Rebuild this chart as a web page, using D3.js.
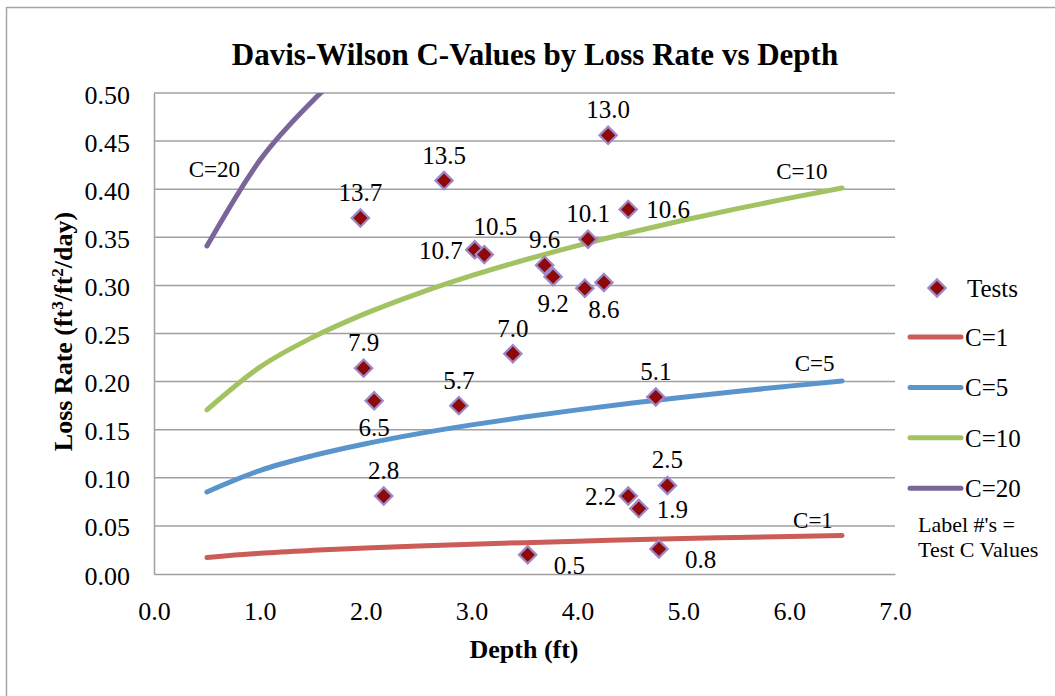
<!DOCTYPE html>
<html>
<head>
<meta charset="utf-8">
<script src="https://cdn.jsdelivr.net/npm/d3@7/dist/d3.min.js"></script>
<style>
  html, body { margin: 0; padding: 0; background: #fff; }
  svg { display: block; }
  svg text { font-family: "Liberation Serif", "Times New Roman", serif; }
</style>
</head>
<body>
<svg id="chart" width="1055" height="696"></svg>
<script>
// Davis-Wilson curves: loss rate at each depth for fixed C values
const curveDepths = [0.5, 1.0, 1.5, 2.0, 2.5, 3.0, 3.5, 4.0, 4.5, 5.0, 5.5, 6.0, 6.5];
const c1Rates  = [0.0171, 0.0215, 0.0246, 0.0271, 0.0292, 0.0310, 0.0326, 0.0341, 0.0355, 0.0368, 0.0380, 0.0391, 0.0401];
const c5Rates  = [0.0853, 0.1075, 0.1230, 0.1354, 0.1459, 0.1550, 0.1632, 0.1706, 0.1775, 0.1838, 0.1898, 0.1953, 0.2006];
const c10Rates = [0.1706, 0.2150, 0.2461, 0.2709, 0.2918, 0.3101, 0.3264, 0.3413, 0.3550, 0.3677, 0.3795, 0.3907, 0.4013];
const c20Depths = [0.5, 1.0, 1.5, 2.0];
const c20Rates  = [0.341, 0.430, 0.492, 0.542];

// Field tests: depth (ft), loss rate (ft3/ft2/day), test C value label
const testDepth = [4.29, 2.74, 1.95, 4.48, 4.10, 3.03, 3.12, 3.69, 3.77, 4.07, 4.25, 1.98, 3.39, 2.08, 2.88, 4.74, 2.17, 4.48, 4.58, 4.85, 3.53, 4.77];
const testRate  = [0.456, 0.409, 0.370, 0.379, 0.348, 0.337, 0.332, 0.321, 0.309, 0.297, 0.303, 0.214, 0.229, 0.180, 0.175, 0.184, 0.081, 0.081, 0.068, 0.092, 0.020, 0.026];
const testLabel = ["13.0", "13.5", "13.7", "10.6", "10.1", "10.7", "10.5", "9.6", "9.2", "", "8.6", "7.9", "7.0", "6.5", "5.7", "5.1", "2.8", "2.2", "1.9", "2.5", "0.5", "0.8"];
const labelSide = ["above", "above", "above", "right", "above", "left", "aboveRight", "above", "below", "none", "below", "above", "above", "below", "above", "above", "above", "left", "right", "above", "belowRight", "belowRight"];

const xTicks = [0, 1, 2, 3, 4, 5, 6, 7];
const yTicks = [0, 0.05, 0.10, 0.15, 0.20, 0.25, 0.30, 0.35, 0.40, 0.45, 0.50];

const seriesNames  = ["C=1", "C=5", "C=10", "C=20"];
const seriesColors = ["#CB5C57", "#5A94CC", "#A3C262", "#7A659B"];

const serif = "Liberation Serif, Times New Roman, serif";
const svg = d3.select("#chart");

const x = d3.scaleLinear().domain([0, 7]).range([154, 895]);
const y = d3.scaleLinear().domain([0, 0.5]).range([574, 93]);

// outer chart frame
svg.append("rect")
  .attr("x", 6.5).attr("y", 7.5).attr("width", 1200).attr("height", 900)
  .attr("fill", "none").attr("stroke", "#a6a6a6").attr("stroke-width", 1.5);

// title
svg.append("text")
  .attr("x", 535).attr("y", 65)
  .attr("text-anchor", "middle")
  .attr("font-family", serif)
  .attr("font-size", 31).attr("font-weight", "bold")
  .text("Davis-Wilson C-Values by Loss Rate vs Depth");

// horizontal gridlines
svg.append("g")
  .selectAll("line")
  .data(yTicks.slice(1))
  .join("line")
  .attr("x1", x(0)).attr("x2", x(7))
  .attr("y1", d => y(d)).attr("y2", d => y(d))
  .attr("stroke", "#a0a0a0").attr("stroke-width", 1.5);

// axes (lines drawn by d3 axis generators, no tick marks)
const xAxis = svg.append("g")
  .attr("transform", `translate(0,${y(0)})`)
  .call(d3.axisBottom(x).tickValues(xTicks).tickFormat(d3.format(".1f")).tickSize(0).tickPadding(0));
const yAxis = svg.append("g")
  .attr("transform", `translate(${x(0)},0)`)
  .call(d3.axisLeft(y).tickValues(yTicks).tickFormat(d3.format(".2f")).tickSize(0).tickPadding(0));

[xAxis, yAxis].forEach(g => {
  g.attr("font-family", serif);
  g.select(".domain").attr("stroke", "#a0a0a0").attr("stroke-width", 1.5);
  g.selectAll("text")
    .attr("font-family", serif)
    .attr("font-size", 26).attr("fill", "#000");
});
xAxis.selectAll("text").attr("dy", null).attr("y", 46);
yAxis.selectAll("text").attr("dy", null).attr("x", -24).attr("y", 10).attr("text-anchor", "end");

// axis titles
svg.append("text")
  .attr("x", 524).attr("y", 658)
  .attr("text-anchor", "middle")
  .attr("font-family", serif)
  .attr("font-size", 26).attr("font-weight", "bold")
  .text("Depth (ft)");

const yTitle = svg.append("text")
  .attr("transform", `translate(72,${(y(0) + y(0.5)) / 2 - 2}) rotate(-90)`)
  .attr("text-anchor", "middle")
  .attr("font-family", serif)
  .attr("font-size", 26).attr("font-weight", "bold");
yTitle.append("tspan").text("Loss Rate (ft");
yTitle.append("tspan").attr("dy", -9).attr("font-size", 17).text("3");
yTitle.append("tspan").attr("dy", 9).text("/ft");
yTitle.append("tspan").attr("dy", -9).attr("font-size", 17).text("2");
yTitle.append("tspan").attr("dy", 9).text("/day)");

// clip the curves to the plot area
svg.append("clipPath").attr("id", "plotClip")
  .append("rect")
  .attr("x", x(0)).attr("y", y(0.5))
  .attr("width", x(7) - x(0)).attr("height", y(0) - y(0.5));

const line = d3.line()
  .x(d => x(d[0])).y(d => y(d[1]))
  .curve(d3.curveMonotoneX);

const curves = [
  curveDepths.map((d, i) => [d, c1Rates[i]]),
  curveDepths.map((d, i) => [d, c5Rates[i]]),
  curveDepths.map((d, i) => [d, c10Rates[i]]),
  c20Depths.map((d, i) => [d, c20Rates[i]])
];

svg.append("g").attr("clip-path", "url(#plotClip)")
  .selectAll("path")
  .data(curves)
  .join("path")
  .attr("d", line)
  .attr("fill", "none")
  .attr("stroke", (d, i) => seriesColors[i])
  .attr("stroke-width", 5)
  .attr("stroke-linecap", "round")
  .attr("stroke-linejoin", "round");

// curve name labels
const curveLabelAt = [[6.225, 0.0478], [6.24, 0.2110], [6.12, 0.4106], [0.57, 0.4127]];
svg.append("g")
  .selectAll("text")
  .data(seriesNames)
  .join("text")
  .attr("x", (d, i) => x(curveLabelAt[i][0]))
  .attr("y", (d, i) => y(curveLabelAt[i][1]))
  .attr("text-anchor", "middle")
  .attr("font-family", serif)
  .attr("font-size", 23)
  .text(d => d);

// test points
const diamond = d3.symbol(d3.symbolSquare, 150);
const tests = testDepth.map((d, i) => ({ depth: d, rate: testRate[i], label: testLabel[i], side: labelSide[i] }));

svg.append("g")
  .selectAll("path")
  .data(tests)
  .join("path")
  .attr("d", diamond)
  .attr("transform", d => `translate(${x(d.depth)},${y(d.rate)}) rotate(45)`)
  .attr("fill", "#8E0A0A")
  .attr("stroke", "#9D88C8")
  .attr("stroke-width", 2.2);

// test C value labels
const place = {
  above:      { dx: 0,   dy: -17, anchor: "middle" },
  aboveRight: { dx: 11,  dy: -20, anchor: "middle" },
  below:      { dx: 0,   dy: 35,  anchor: "middle" },
  left:       { dx: -12, dy: 9,   anchor: "end" },
  right:      { dx: 18,  dy: 9,   anchor: "start" },
  belowRight: { dx: 26,  dy: 19,  anchor: "start" }
};
svg.append("g")
  .selectAll("text")
  .data(tests.filter(d => d.label !== "" && d.side !== "none"))
  .join("text")
  .attr("x", d => x(d.depth) + place[d.side].dx)
  .attr("y", d => y(d.rate) + place[d.side].dy)
  .attr("text-anchor", d => place[d.side].anchor)
  .attr("font-family", serif)
  .attr("font-size", 25)
  .text(d => d.label);

// legend
const legend = svg.append("g").attr("font-family", serif);
legend.append("path")
  .attr("d", diamond)
  .attr("transform", "translate(937,288) rotate(45)")
  .attr("fill", "#8E0A0A").attr("stroke", "#9D88C8").attr("stroke-width", 2.2);
legend.append("text")
  .attr("x", 967).attr("y", 297)
  .attr("font-size", 25).text("Tests");

const legendRows = legend.selectAll("g.row")
  .data(seriesNames)
  .join("g")
  .attr("class", "row")
  .attr("transform", (d, i) => `translate(0,${337 + i * 50.4})`);
legendRows.append("line")
  .attr("x1", 910).attr("x2", 961)
  .attr("stroke", (d, i) => seriesColors[i])
  .attr("stroke-width", 5).attr("stroke-linecap", "round");
legendRows.append("text")
  .attr("x", 965).attr("y", 9)
  .attr("font-size", 25).text(d => d);

legend.append("text")
  .attr("x", 918).attr("y", 532)
  .attr("font-size", 22).text("Label #'s =");
legend.append("text")
  .attr("x", 918).attr("y", 557)
  .attr("font-size", 22).text("Test C Values");
</script>
</body>
</html>
